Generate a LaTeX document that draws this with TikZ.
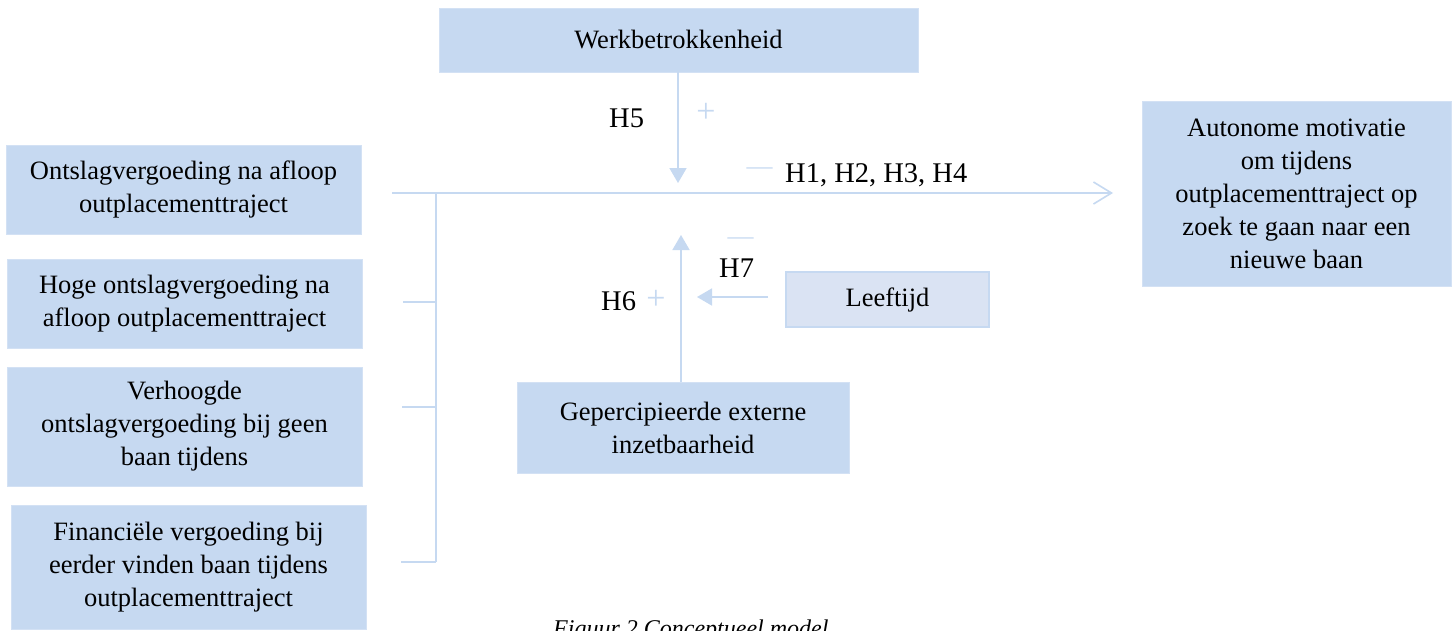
\documentclass[tikz,border=0pt]{standalone}
\usepackage{fontspec}
\setmainfont{Liberation Serif}
\usetikzlibrary{arrows.meta}
\definecolor{boxblue}{HTML}{C6D9F1}
\definecolor{boxedge}{HTML}{D3E1F4}
\definecolor{lineblue}{HTML}{C6D9F1}
\definecolor{lightbox}{HTML}{DAE3F3}
\begin{document}
\begin{tikzpicture}[x=1pt,y=-1pt,
  box/.style={fill=boxblue, draw=boxedge, line width=0.6pt, inner sep=0pt, align=center, font=\fontsize{26.5}{33}\selectfont},
  conn/.style={draw=lineblue, line width=1.6pt},
  tri/.style={conn, -{Triangle[length=15pt,width=17pt]}},
  openarr/.style={conn, -{Straight Barb[length=18pt,width=22pt]}},
  hlab/.style={inner sep=0pt, anchor=base west, font=\fontsize{28.5}{34}\selectfont},
  sign/.style={inner sep=0pt, text=lineblue, font=\fontsize{34}{38}\selectfont},
  dashsign/.style={inner sep=0pt, text=lineblue, font=\fontsize{26}{30}\selectfont}]
\useasboundingbox (0,0) rectangle (1456,630);
\clip (0,0) rectangle (1456,630);
\fill[white] (0,0) rectangle (1456,630);

% boxes
\node[box, minimum width=355pt, minimum height=89pt] (b1) at (183.5,189.5) {Ontslagvergoeding na afloop\\outplacementtraject};
\node[box, minimum width=355pt, minimum height=89pt] (b2) at (184.5,303.5) {Hoge ontslagvergoeding na\\afloop outplacementtraject};
\node[box, minimum width=355pt, minimum height=119pt] (b3) at (184.5,426.5) {Verhoogde\\ontslagvergoeding bij geen\\baan tijdens};
\node[box, minimum width=355pt, minimum height=124pt] (b4) at (188.5,567) {Financiële vergoeding bij\\eerder vinden baan tijdens\\outplacementtraject};
\node[box, minimum width=479pt, minimum height=64pt] (wb) at (678.5,40) {Werkbetrokkenheid};
\node[box, minimum width=309pt, minimum height=185pt] (am) at (1296.5,193.5) {Autonome motivatie\\om tijdens\\outplacementtraject op\\zoek te gaan naar een\\nieuwe baan};
\node[box, fill=lightbox, draw=boxblue, line width=1.5pt, minimum width=203pt, minimum height=55pt] (lt) at (887.5,299.5) {Leeftijd};
\node[box, minimum width=332pt, minimum height=91pt] (ge) at (683,427.5) {Gepercipieerde externe\\inzetbaarheid};

% coordinates
\coordinate (mstart) at (392,193);
\coordinate (mend) at (1113,193);
\coordinate (brtop) at (436,192);
\coordinate (brbot) at (436,562);
\coordinate (t2) at (403,302);
\coordinate (t3) at (402,407);
\coordinate (t4) at (401,562);
\coordinate (v5) at (678,183);
\coordinate (v6) at (681,235);
\coordinate (h7s) at (768,297);
\coordinate (h7e) at (697,297);

% main line and bracket
\draw[openarr] (mstart) -- (mend);
\draw[conn] (brtop) -- (brbot);
\draw[conn] (t2) -- (t2 -| brtop);
\draw[conn] (t3) -- (t3 -| brtop);
\draw[conn] (t4) -- (brbot);

% moderator arrows
\draw[tri] (wb.south -| v5) -- (v5);
\draw[tri] (ge.north -| v6) -- (v6);
\draw[tri] (h7s) -- (h7e);

% labels
\node[hlab] (l5) at (609,127) {H5};
\node[sign] (p5) at (706,113) {+};
\node[dashsign] (m1) at (759.5,171) {—};
\node[hlab] (l1) at (785,182) {H1, H2, H3, H4};
\node[dashsign] (m7) at (740.5,241) {—};
\node[hlab] (l7) at (719,277) {H7};
\node[hlab] (l6) at (601,310) {H6};
\node[sign] (p6) at (656,300) {+};

% caption
\node[inner sep=0pt, anchor=base west, font=\fontsize{24}{28}\selectfont\itshape] (cap) at (553,636) {Figuur 2 Conceptueel model};
\end{tikzpicture}
\end{document}
